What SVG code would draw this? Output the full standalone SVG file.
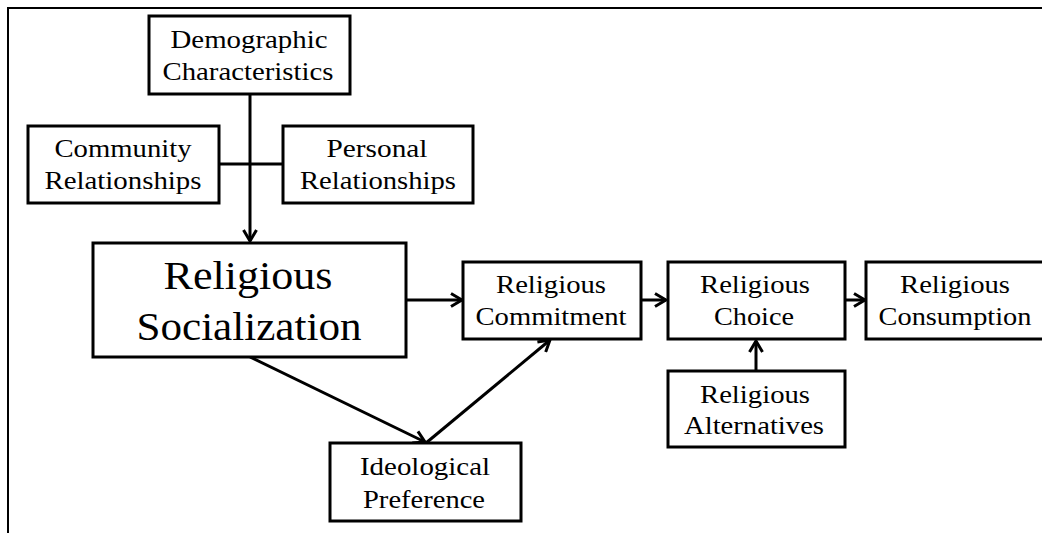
<svg xmlns="http://www.w3.org/2000/svg" width="1042" height="533" viewBox="0 0 1042 533">
<style>
.box{fill:#fff;stroke:#000;stroke-width:3}
.t{font-family:"Liberation Serif","Times New Roman",serif;font-size:26px;fill:#000;text-anchor:middle}
.big{font-size:39px}
.c{fill:none;stroke:#000;stroke-width:3}
</style>
<defs>
<marker id="ah" viewBox="0 0 16 16" refX="14" refY="8" markerWidth="16" markerHeight="16" markerUnits="userSpaceOnUse" orient="auto">
<path d="M3,1.5 L14,8 L3,14.5" fill="none" stroke="#000" stroke-width="3"/>
</marker>
</defs>
<rect width="1042" height="533" fill="#fff"/>
<path d="M8,533 V8 H1042" fill="none" stroke="#000" stroke-width="2"/>
<g id="connectors">
<path class="c" d="M250,94 V241" marker-end="url(#ah)"/>
<path class="c" d="M219,164 H283"/>
<path class="c" d="M406,300 H462" marker-end="url(#ah)"/>
<path class="c" d="M641,300 H666" marker-end="url(#ah)"/>
<path class="c" d="M845,300 H865" marker-end="url(#ah)"/>
<path class="c" d="M756,371 V341" marker-end="url(#ah)"/>
<path class="c" d="M250,357 L425,442" marker-end="url(#ah)"/>
<path class="c" d="M426,443 L550,340" marker-end="url(#ah)"/>
</g>
<g id="demographic">
<rect class="box" x="149" y="16" width="201" height="78"/>
<text class="t" x="249" y="48" textLength="157" lengthAdjust="spacingAndGlyphs">Demographic</text>
<text class="t" x="248" y="80" textLength="171" lengthAdjust="spacingAndGlyphs">Characteristics</text>
</g>
<g id="community">
<rect class="box" x="28" y="126" width="191" height="77"/>
<text class="t" x="123" y="157" textLength="137" lengthAdjust="spacingAndGlyphs">Community</text>
<text class="t" x="123" y="189" textLength="157" lengthAdjust="spacingAndGlyphs">Relationships</text>
</g>
<g id="personal">
<rect class="box" x="283" y="126" width="190" height="77"/>
<text class="t" x="377" y="157" textLength="101" lengthAdjust="spacingAndGlyphs">Personal</text>
<text class="t" x="378" y="189" textLength="156" lengthAdjust="spacingAndGlyphs">Relationships</text>
</g>
<g id="socialization">
<rect class="box" x="93" y="243" width="313" height="114"/>
<text class="t big" x="248" y="289" textLength="169" lengthAdjust="spacingAndGlyphs">Religious</text>
<text class="t big" x="249" y="340" textLength="225" lengthAdjust="spacingAndGlyphs">Socialization</text>
</g>
<g id="commitment">
<rect class="box" x="463" y="262" width="178" height="77"/>
<text class="t" x="551" y="293" textLength="110" lengthAdjust="spacingAndGlyphs">Religious</text>
<text class="t" x="551" y="325" textLength="151" lengthAdjust="spacingAndGlyphs">Commitment</text>
</g>
<g id="choice">
<rect class="box" x="668" y="262" width="177" height="77"/>
<text class="t" x="755" y="293" textLength="110" lengthAdjust="spacingAndGlyphs">Religious</text>
<text class="t" x="754" y="325" textLength="80" lengthAdjust="spacingAndGlyphs">Choice</text>
</g>
<g id="consumption">
<rect class="box" x="866" y="262" width="180" height="77"/>
<text class="t" x="955" y="293" textLength="110" lengthAdjust="spacingAndGlyphs">Religious</text>
<text class="t" x="955" y="325" textLength="153" lengthAdjust="spacingAndGlyphs">Consumption</text>
</g>
<g id="alternatives">
<rect class="box" x="668" y="371" width="177" height="76"/>
<text class="t" x="755" y="403" textLength="110" lengthAdjust="spacingAndGlyphs">Religious</text>
<text class="t" x="754" y="434" textLength="140" lengthAdjust="spacingAndGlyphs">Alternatives</text>
</g>
<g id="ideological">
<rect class="box" x="330" y="443" width="191" height="78"/>
<text class="t" x="425" y="475" textLength="130" lengthAdjust="spacingAndGlyphs">Ideological</text>
<text class="t" x="424" y="508" textLength="122" lengthAdjust="spacingAndGlyphs">Preference</text>
</g>
</svg>
